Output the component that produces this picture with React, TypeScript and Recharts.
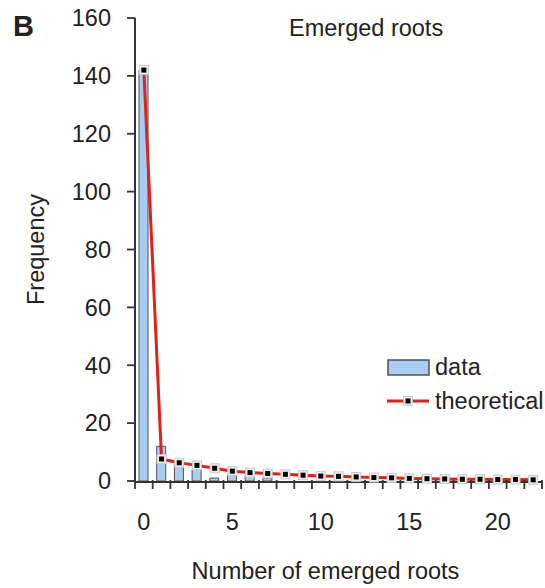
import React from 'react';
import { ComposedChart, Bar, Line, XAxis, YAxis, Legend, Label } from 'recharts';

const categories = [0, 1, 2, 3, 4, 5, 6, 7, 8, 9, 10, 11, 12, 13, 14, 15, 16, 17, 18, 19, 20, 21, 22];
const observed = [142, 12, 6, 4, 1, 2, 2, 1, 0, 0, 0, 0, 0, 0, 0, 0, 2, 0, 0, 0, 0, 0, 0];
const theoretical = [142, 7.6, 6.3, 5.4, 4.4, 3.4, 2.9, 2.6, 2.3, 2.0, 1.7, 1.6, 1.4, 1.2, 1.1, 0.9, 0.8, 0.7, 0.6, 0.6, 0.5, 0.5, 0.4];
const yTicks = [0, 20, 40, 60, 80, 100, 120, 140, 160];
const boundaryTicks = [-0.5, 0.5, 1.5, 2.5, 3.5, 4.5, 5.5, 6.5, 7.5, 8.5, 9.5, 10.5, 11.5, 12.5, 13.5, 14.5, 15.5, 16.5, 17.5, 18.5, 19.5, 20.5, 21.5, 22.5];

const data = categories.map((k, i) => ({ k, data: observed[i], theoretical: theoretical[i] }));

const FONT = '"Liberation Sans", Arial, sans-serif';
const TEXT = '#222';
const AXIS = '#333';
const RED = '#e0201b';
const BLUE = '#a9cdf2';

const Marker = (props: any) => {
  const { cx, cy } = props;
  if (cx == null || cy == null) return null;
  return (
    <g>
      <rect x={cx - 4.5} y={cy - 4.5} width={9} height={9} fill="#eeeeee" stroke="#c8c8c8" strokeWidth={1} />
      <rect x={cx - 2.5} y={cy - 2.5} width={5} height={5} fill="#000" />
    </g>
  );
};

const BoundaryTick = (props: any) => {
  const { x, y } = props;
  return <line x1={x} x2={x} y1={y - 1} y2={y + 8} stroke={AXIS} strokeWidth={1.8} />;
};

const LegendContent = () => (
  <div style={{ fontFamily: FONT, fontSize: 23.5, color: TEXT, lineHeight: '34px' }}>
    <div style={{ display: 'flex', alignItems: 'center' }}>
      <svg width={48} height={20}>
        <rect x={1} y={3} width={41} height={15} fill={BLUE} stroke="#505050" strokeWidth={1.5} />
      </svg>
      <span>data</span>
    </div>
    <div style={{ display: 'flex', alignItems: 'center' }}>
      <svg width={48} height={20}>
        <line x1={0} y1={10} x2={42} y2={10} stroke={RED} strokeWidth={3} />
        <Marker cx={21} cy={10} />
      </svg>
      <span>theoretical</span>
    </div>
  </div>
);

export default function App() {
  return (
    <div style={{ position: 'absolute', left: 0, top: 0, width: 545, height: 588, background: '#fff' }}>
      <div style={{ position: 'absolute', left: 13, top: 12, fontFamily: FONT, fontWeight: 'bold', fontSize: 29, color: TEXT, lineHeight: 1 }}>B</div>
      <div style={{ position: 'absolute', left: 289, top: 17, fontFamily: FONT, fontSize: 23.5, color: TEXT, lineHeight: 1 }}>Emerged roots</div>
      <ComposedChart
        width={545}
        height={588}
        data={data}
        margin={{ top: 18, right: 3, left: 0, bottom: 0 }}
        barCategoryGap={0}
      >
        <XAxis
          xAxisId="b_boundaries"
          type="number"
          dataKey="k"
          domain={[-0.5, 22.5]}
          ticks={boundaryTicks}
          interval={0}
          allowDataOverflow
          height={1}
          tick={<BoundaryTick />}
          tickSize={0}
          tickMargin={0}
          axisLine={false}
          tickLine={false}
        />
        <XAxis
          xAxisId="l_labels"
          dataKey="k"
          type="category"
          interval={4}
          height={106}
          tickLine={false}
          tickSize={0}
          tickMargin={31}
          axisLine={{ stroke: AXIS, strokeWidth: 2 }}
          tick={{ fill: TEXT, fontSize: 23.5, fontFamily: FONT }}
        >
          <Label value="Number of emerged roots" position="center" dy={36} dx={-13} fill={TEXT} fontSize={23.5} fontFamily={FONT} />
        </XAxis>
        <YAxis
          width={135}
          domain={[0, 160]}
          ticks={yTicks}
          interval={0}
          tickSize={8}
          tickMargin={16}
          axisLine={{ stroke: AXIS, strokeWidth: 2 }}
          tickLine={{ stroke: AXIS, strokeWidth: 1.8 }}
          tick={{ fill: TEXT, fontSize: 23.5, fontFamily: FONT }}
        >
          <Label value="Frequency" angle={-90} position="center" dx={-32} fill={TEXT} fontSize={23.5} fontFamily={FONT} />
        </YAxis>
        <Legend
          layout="horizontal"
          verticalAlign="middle"
          align="center"
          content={<LegendContent />}
          wrapperStyle={{ left: 387, top: 350, width: 160, height: 70 }}
        />
        <Bar xAxisId="l_labels" dataKey="data" name="data" barSize={9} fill={BLUE} stroke="#505050" strokeWidth={1} isAnimationActive={false} />
        <Line
          xAxisId="l_labels"
          dataKey="theoretical"
          name="theoretical"
          type="linear"
          stroke={RED}
          strokeWidth={3}
          dot={<Marker />}
          activeDot={false}
          isAnimationActive={false}
        />
      </ComposedChart>
    </div>
  );
}
